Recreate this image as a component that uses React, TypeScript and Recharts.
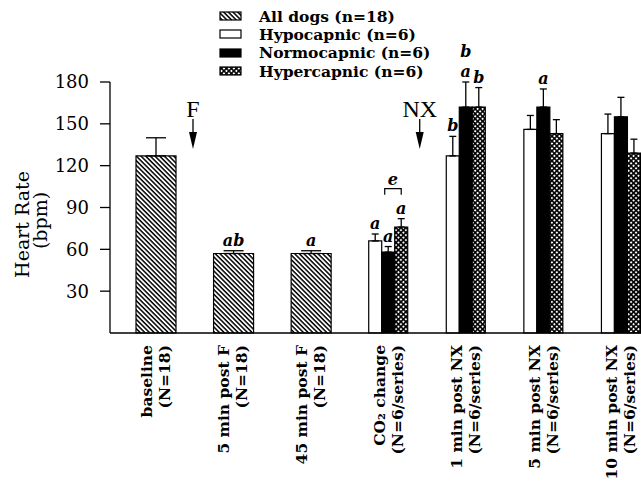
import React from "react";
import { Bar, BarChart, ErrorBar, Label, LabelList, Legend, XAxis, YAxis } from "recharts";

const CATEGORIES = [
  "baseline",
  "5 min post F",
  "45 min post F",
  "CO₂ change",
  "1 min post NX",
  "5 min post NX",
  "10 min post NX"
];
const GROUP_SIZES = ["(N=18)", "(N=18)", "(N=18)", "(N=6/series)", "(N=6/series)", "(N=6/series)", "(N=6/series)"];

const ALL_DOGS = [127, 57, 57, null, null, null, null];
const ALL_DOGS_SEM = [13, 2, 2, null, null, null, null];
const HYPO = [null, null, null, 66, 127, 146, 143];
const HYPO_SEM = [null, null, null, 5, 14, 10, 14];
const NORMO = [null, null, null, 58, 162, 162, 155];
const NORMO_SEM = [null, null, null, 4, 18, 13, 14];
const HYPER = [null, null, null, 76, 162, 143, 129];
const HYPER_SEM = [null, null, null, 6, 14, 10, 10];

// significance letters, listed bottom to top
const ALL_DOGS_MARKS = [[], ["ab"], ["a"], [], [], [], []];
const HYPO_MARKS = [[], [], [], ["a"], ["b"], [], []];
const NORMO_MARKS = [[], [], [], ["a"], ["a", "b"], ["a"], []];
const HYPER_MARKS = [[], [], [], ["a"], ["b"], [], []];

const Y_TICKS = [30, 60, 90, 120, 150, 180];

const err = (v: number | null) => (v == null ? null : [0, v]);

const data = CATEGORIES.map((name, i) => ({
  name,
  allDogs: ALL_DOGS[i],
  allDogsErr: err(ALL_DOGS_SEM[i]),
  hypo: HYPO[i],
  hypoErr: err(HYPO_SEM[i]),
  normo: NORMO[i],
  normoErr: err(NORMO_SEM[i]),
  hyper: HYPER[i],
  hyperErr: err(HYPER_SEM[i])
}));

const FONT = "'DejaVu Serif', serif";
const MARK_STYLE = { fontFamily: FONT, fontStyle: "italic", fontWeight: 700, fontSize: 16, fill: "#000" };

function Arrow({ x, tip, text }: { x: number; tip: number; text: string }) {
  return (
    <g>
      <text x={x} y={tip - 32} textAnchor="middle" fontFamily="'Liberation Serif', serif" fontSize={24} fill="#000">
        {text}
      </text>
      <line x1={x} y1={tip - 30} x2={x} y2={tip - 16} stroke="#000" strokeWidth={1.3} />
      <path d={`M${x - 4},${tip - 17} L${x + 4},${tip - 17} L${x},${tip} Z`} fill="#000" />
    </g>
  );
}

const ARROW_TIP_VALUE = 132;

// LabelList is keyed on the category name, so the row index is read from it
function markLabel(values: (number | null)[], sems: (number | null)[], marks: string[][], extra?: (p: any) => any) {
  return (props: any) => {
    const vb = props.viewBox ?? props;
    const x = vb.x ?? props.x;
    const y = vb.y ?? props.y;
    const width = vb.width ?? props.width;
    const height = Math.abs(vb.height ?? props.height);
    const index = CATEGORIES.indexOf(props.value);
    const v = values[index];
    if (index < 0 || v == null || !v) return null;
    const k = height / v;
    const base = y + height;
    const top = y - (sems[index] ?? 0) * k;
    const cx = x + width / 2;
    const m = marks[index] || [];
    return (
      <g>
        {m.map((t, j) => (
          <text key={j} x={cx} y={top - 5 - j * 20} textAnchor="middle" style={MARK_STYLE}>
            {t}
          </text>
        ))}
        {extra ? extra({ x, y, width, base, k, top, index }) : null}
      </g>
    );
  };
}

const allDogsExtra = ({ x, width, base, k, index }: any) =>
  index === 0 ? <Arrow x={x + width + 17} tip={base - ARROW_TIP_VALUE * k} text="F" /> : null;

const hyperExtra = ({ x, width, base, k, top, index }: any) => {
  if (index !== 3) return null;
  const by = top - 30;
  const x1 = x - width + 3;
  const x2 = x + width / 2;
  return (
    <g>
      <path d={`M${x1},${by + 6} L${x1},${by} L${x2},${by} L${x2},${by + 6}`} fill="none" stroke="#000" strokeWidth={1.2} />
      <text x={(x1 + x2) / 2} y={by - 4} textAnchor="middle" style={MARK_STYLE}>
        e
      </text>
      <Arrow x={x + width + 12} tip={base - ARROW_TIP_VALUE * k} text="NX" />
    </g>
  );
};

function CategoryTick({ x, y, payload }: any) {
  const i = CATEGORIES.indexOf(payload.value);
  return (
    <g transform={`translate(${x},${y + 10})`}>
      <text transform="rotate(-90)" textAnchor="end" fontFamily={FONT} fontWeight={700} fontSize={15.5} fill="#000">
        <tspan x={0} y={-4}>
          {payload.value}
        </tspan>
        <tspan x={0} y={14}>
          {GROUP_SIZES[i]}
        </tspan>
      </text>
    </g>
  );
}

function YTitle({ viewBox }: any) {
  const cy = viewBox.y + viewBox.height / 2;
  return (
    <g fontFamily={FONT} fontSize={19} fill="#000">
      <text transform={`translate(29,${cy + 17}) rotate(-90)`} textAnchor="middle">
        Heart Rate
      </text>
      <text transform={`translate(47,${cy + 13}) rotate(-90)`} textAnchor="middle">
        (bpm)
      </text>
    </g>
  );
}

const LEGEND_ITEMS = [
  { label: "All dogs (n=18)", fill: "url(#hatch)" },
  { label: "Hypocapnic (n=6)", fill: "#fff" },
  { label: "Normocapnic (n=6)", fill: "#000" },
  { label: "Hypercapnic (n=6)", fill: "url(#checks)" }
];

function LegendBox() {
  return (
    <div style={{ fontFamily: FONT, fontWeight: 700, fontSize: 15.5, color: "#000" }}>
      {LEGEND_ITEMS.map((item) => (
        <div key={item.label} style={{ display: "flex", alignItems: "center", height: 18.3, whiteSpace: "nowrap" }}>
          <svg width={23} height={10} style={{ display: "block" }}>
            <rect x={1} y={1} width={21} height={8} fill={item.fill} stroke="#000" strokeWidth={1.2} />
          </svg>
          <span style={{ marginLeft: 17 }}>{item.label}</span>
        </div>
      ))}
    </div>
  );
}

export default function App() {
  return (
    <div style={{ position: "fixed", left: 0, top: 0, width: 641, height: 482, overflow: "hidden", background: "#fff" }}>
      <BarChart
        width={670}
        height={482}
        data={data}
        barGap={0}
        margin={{ top: 82, right: 10, bottom: 0, left: 50 }}
        style={{ fontFamily: FONT }}
      >
        <defs>
          <pattern id="hatch" width={3.3} height={3.3} patternUnits="userSpaceOnUse" patternTransform="rotate(45)">
            <rect width={3.3} height={3.3} fill="#fff" />
            <rect width={3.3} height={1.5} fill="#000" />
          </pattern>
          <pattern id="checks" width={3.5} height={3.5} patternUnits="userSpaceOnUse" patternTransform="rotate(45)">
            <rect width={3.5} height={3.5} fill="#000" />
            <rect x={0.8} y={0.8} width={1.9} height={1.9} fill="#fff" />
          </pattern>
        </defs>
        <XAxis xAxisId="group" dataKey="name" hide height={0} padding={{ left: 7, right: 0 }} />
        <XAxis
          xAxisId="single"
          dataKey="name"
          height={149}
          interval={0}
          padding={{ left: 7, right: 0 }}
          axisLine={{ stroke: "#000", strokeWidth: 1.3 }}
          tickLine={false}
          tickSize={0}
          tick={<CategoryTick />}
        />
        <YAxis
          domain={[0, 180]}
          ticks={Y_TICKS}
          width={60}
          tickSize={10}
          tickMargin={11}
          axisLine={{ stroke: "#000", strokeWidth: 1.3 }}
          tickLine={{ stroke: "#000", strokeWidth: 1.3 }}
          tick={{ fill: "#000", fontSize: 18, fontFamily: FONT }}
        >
          <Label content={<YTitle />} />
        </YAxis>
        <Legend
          layout="vertical"
          align="center"
          verticalAlign="middle"
          wrapperStyle={{ top: 7, left: 219, width: 260 }}
          content={<LegendBox />}
        />
        <Bar xAxisId="single" dataKey="allDogs" barSize={40} fill="url(#hatch)" stroke="#000" strokeWidth={1.2} isAnimationActive={false}>
          <ErrorBar dataKey="allDogsErr" width={10} stroke="#000" strokeWidth={1.3} direction="y" />
          <LabelList dataKey="name" content={markLabel(ALL_DOGS, ALL_DOGS_SEM, ALL_DOGS_MARKS, allDogsExtra)} />
        </Bar>
        <Bar xAxisId="group" dataKey="hypo" barSize={13} fill="#fff" stroke="#000" strokeWidth={1.2} isAnimationActive={false}>
          <ErrorBar dataKey="hypoErr" width={3.5} stroke="#000" strokeWidth={1.3} direction="y" />
          <LabelList dataKey="name" content={markLabel(HYPO, HYPO_SEM, HYPO_MARKS)} />
        </Bar>
        <Bar xAxisId="group" dataKey="normo" barSize={13} fill="#000" stroke="#000" strokeWidth={1.2} isAnimationActive={false}>
          <ErrorBar dataKey="normoErr" width={3.5} stroke="#000" strokeWidth={1.3} direction="y" />
          <LabelList dataKey="name" content={markLabel(NORMO, NORMO_SEM, NORMO_MARKS)} />
        </Bar>
        <Bar xAxisId="group" dataKey="hyper" barSize={13} fill="url(#checks)" stroke="#000" strokeWidth={1.2} isAnimationActive={false}>
          <ErrorBar dataKey="hyperErr" width={3.5} stroke="#000" strokeWidth={1.3} direction="y" />
          <LabelList dataKey="name" content={markLabel(HYPER, HYPER_SEM, HYPER_MARKS, hyperExtra)} />
        </Bar>
      </BarChart>
    </div>
  );
}
